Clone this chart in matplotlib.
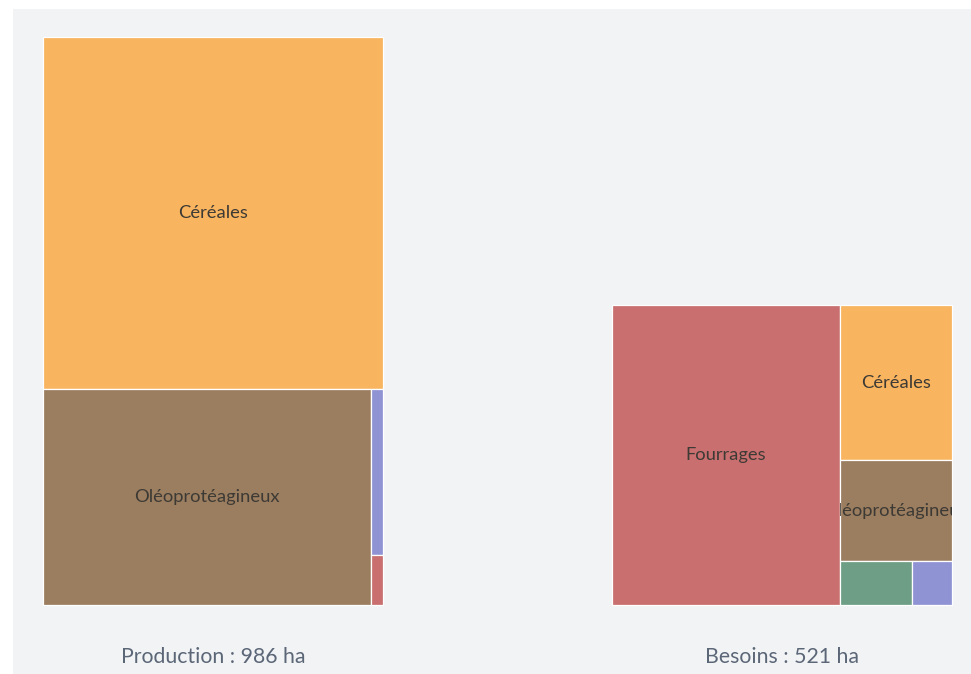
import matplotlib
matplotlib.use("Agg")
import matplotlib.pyplot as plt
from matplotlib.patches import Rectangle
from matplotlib.transforms import Bbox, TransformedBbox

# Surfaces (ha) per crop family
production_labels = ["Céréales", "Oléoprotéagineux", "Légumes", "Fourrages"]
production_values = [611, 362, 10, 3]

besoins_labels = ["Fourrages", "Céréales", "Oléoprotéagineux", "Prairies", "Légumes"]
besoins_values = [349, 89, 58, 16, 9]

titles = ["Production : 986 ha", "Besoins : 521 ha"]

colors = {
    "Céréales": "#f8b45f",
    "Oléoprotéagineux": "#9b7d5f",
    "Légumes": "#8f93d4",
    "Fourrages": "#c96f6f",
    "Prairies": "#6f9e86",
}

W, H = 971, 674
PX_PER_HA = 195.86      # area (px²) given to one hectare
BOX_W = 340
BOTTOM = 605


def worst(row, side):
    s = sum(row)
    return max(max(side * side * r / (s * s), s * s / (side * side * r)) for r in row)


def squarify(values, x, y, w, h):
    """Squarified treemap; values are areas already in px²."""
    rects = []
    vals = list(values)
    while vals:
        side = min(w, h)
        row = [vals.pop(0)]
        while vals and worst(row + [vals[0]], side) <= worst(row, side):
            row.append(vals.pop(0))
        s = sum(row)
        if w >= h:  # stack the row vertically along the height
            rw = s / h
            yy = y
            for r in row:
                rh = r / rw
                rects.append((x, yy, rw, rh))
                yy += rh
            x += rw
            w -= rw
        else:       # lay the row horizontally along the width
            rh = s / w
            xx = x
            for r in row:
                rw_ = r / rh
                rects.append((xx, y, rw_, rh))
                xx += rw_
            y += rh
            h -= rh
    return rects


plt.rcParams["font.family"] = ["Lato", "DejaVu Sans"]
fig = plt.figure(figsize=(W / 100, H / 100), dpi=100)
ax = fig.add_axes([0, 0, 1, 1])
ax.set_xlim(0, W)
ax.set_ylim(H, 0)
ax.axis("off")

# panel background
ax.add_patch(Rectangle((13, 9), W - 13, H - 9, facecolor="#f2f3f5", edgecolor="none", zorder=0))

panels = [
    (43, production_labels, production_values, titles[0]),
    (612, besoins_labels, besoins_values, titles[1]),
]

for x0, labels, values, title in panels:
    total = sum(values)
    box_h = total * PX_PER_HA / BOX_W
    y0 = BOTTOM - box_h
    areas = [v * PX_PER_HA for v in values]
    rects = squarify(areas, x0, y0, BOX_W, box_h)
    for lab, (rx, ry, rw, rh) in zip(labels, rects):
        patch = Rectangle((rx, ry), rw, rh, facecolor=colors[lab],
                          edgecolor="#ffffff", linewidth=0.9, zorder=1)
        ax.add_patch(patch)
        if rw > 60 and rh > 60:
            t = ax.text(rx + rw / 2, ry + rh / 2, lab, ha="center", va="center",
                        fontsize=13.2, color="#3d3a35", zorder=2)
            t.set_clip_on(True)
            t.set_clip_box(TransformedBbox(Bbox.from_bounds(rx, ry, rw, rh), ax.transData))
    ax.text(x0 + BOX_W / 2, 657, title, ha="center", va="center",
            fontsize=15.3, color="#5b6677")

fig.savefig("out.png", dpi=100, facecolor="white")
